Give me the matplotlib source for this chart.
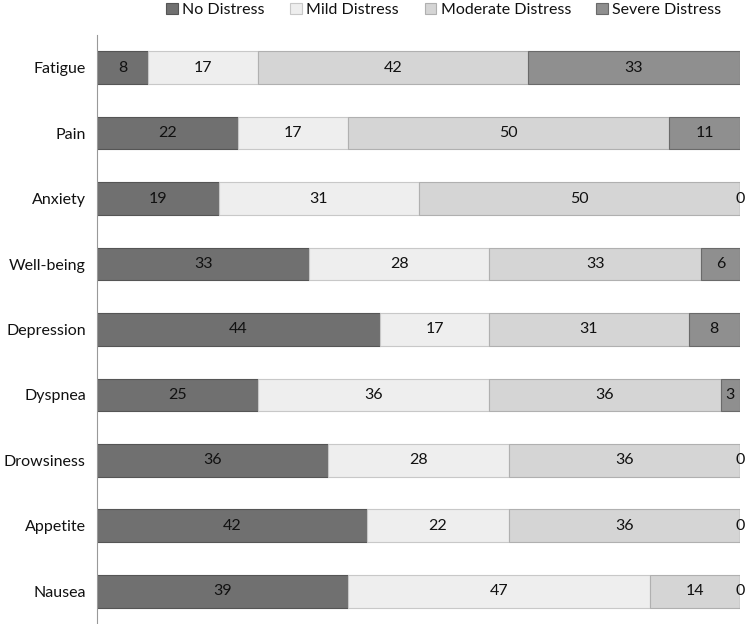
import matplotlib
matplotlib.use("Agg")
import matplotlib.pyplot as plt
import numpy as np

plt.rcParams['font.family'] = ['Lato', 'DejaVu Sans']

categories = ["Fatigue", "Pain", "Anxiety", "Well-being", "Depression",
              "Dyspnea", "Drowsiness", "Appetite", "Nausea"]
series_names = ["No Distress", "Mild Distress", "Moderate Distress", "Severe Distress"]
no_distress = [8, 22, 19, 33, 44, 25, 36, 42, 39]
mild_distress = [17, 17, 31, 28, 17, 36, 28, 22, 47]
moderate_distress = [42, 50, 50, 33, 31, 36, 36, 36, 14]
severe_distress = [33, 11, 0, 6, 8, 3, 0, 0, 0]

colors = ["#707070", "#eeeeee", "#d5d5d5", "#8f8f8f"]
edges = ["#555555", "#c8c8c8", "#b0b0b0", "#6a6a6a"]

fig = plt.figure(figsize=(7.5, 6.24), dpi=100)
ax = fig.add_axes([0.1293, 0.0, 0.9867 - 0.1293, 0.944])

y = np.arange(len(categories))
left = np.zeros(len(categories))
data = [no_distress, mild_distress, moderate_distress, severe_distress]
handles = []
for vals, name, c, ec in zip(data, series_names, colors, edges):
    vals = np.array(vals, dtype=float)
    bars = ax.barh(y, vals, left=left, height=0.5, color=c, edgecolor=ec,
                   linewidth=0.8, label=name)
    handles.append(bars)
    for yi, l, v in zip(y, left, vals):
        ax.text(l + v / 2, yi, f"{int(v)}", ha="center", va="center",
                fontsize=11.5, color="#111111", clip_on=False)
    left += vals

ax.set_xlim(0, 100)
ax.set_ylim(8.5, -0.5)
ax.set_yticks(y)
ax.set_yticklabels(categories, fontsize=11.5, color="#111111")
ax.tick_params(axis="y", length=0, pad=8)
ax.set_xticks([])
for s in ["top", "right", "bottom"]:
    ax.spines[s].set_visible(False)
ax.spines["left"].set_color("#999999")
ax.spines["left"].set_linewidth(0.8)

fig.legend(handles=handles, labels=series_names, loc="upper center",
           bbox_to_anchor=(0.592, 1.018), ncol=4, frameon=False, fontsize=11.5,
           handlelength=0.7, handleheight=0.7, handletextpad=0.3,
           columnspacing=1.6, labelcolor="#111111")

fig.savefig("out.png", dpi=100)
